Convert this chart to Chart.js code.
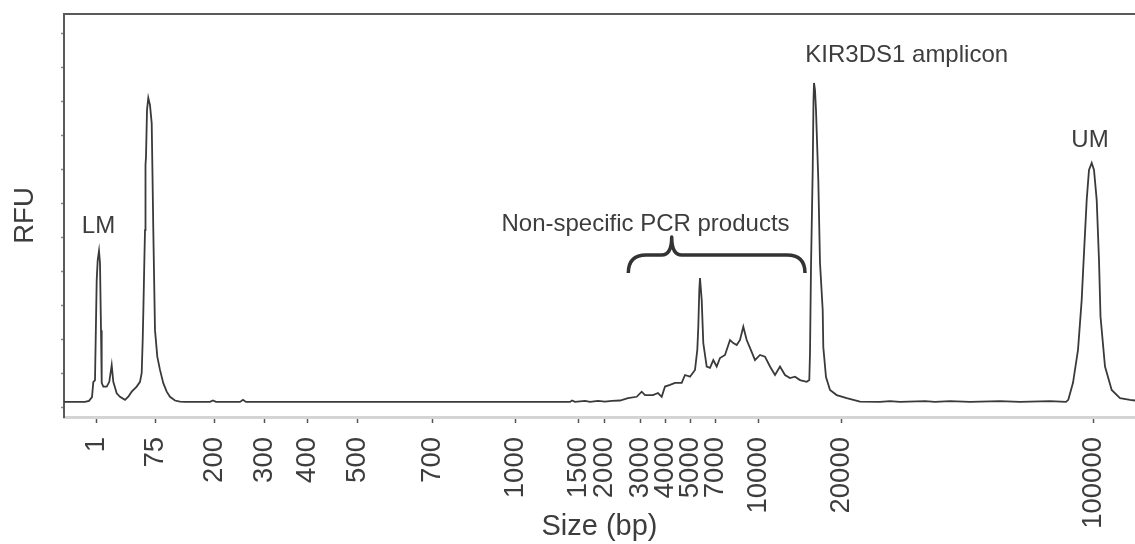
<!DOCTYPE html>
<html>
<head>
<meta charset="utf-8">
<title>Electropherogram</title>
<script src="https://cdn.jsdelivr.net/npm/chart.js@4.4.1/dist/chart.umd.min.js"></script>
<style>
  html, body { margin: 0; padding: 0; background: #fff; }
  #wrap { width: 1135px; height: 544px; position: relative; }
</style>
</head>
<body>
<div id="wrap"><canvas id="trace"></canvas></div>
<script>
// migration time (s) of each trace sample
const migrationTime = [
  0, 2.1, 2.5, 2.8, 2.93, 3.1, 3.27, 3.37, 3.5, 3.6, 3.7, 3.77, 3.93, 4.27, 4.53,
  4.77, 4.93, 5.27, 5.6, 6.1, 6.43, 6.77, 7.27, 7.6, 7.77, 7.87, 7.93, 8.03, 8.1, 8.15,
  8.2, 8.3, 8.43, 8.6, 8.77, 8.85, 8.93, 9.1, 9.33, 9.6, 9.93, 10.27, 10.6, 11.1, 11.6, 12.1,
  14.6, 14.9, 15.2, 17.6, 17.9, 18.2,
  50.6, 50.8, 51.1, 52.1, 52.6, 53.4, 54.1, 54.8, 55.6, 56.4,
  57.27, 57.77, 58.1, 58.5, 58.9, 59.4, 59.77, 60.1, 60.6, 61.1, 61.77, 62.1, 62.6, 63.1, 63.33,
  63.43, 63.53, 63.6, 63.77, 63.93, 64.27, 64.6, 64.93, 65.27, 65.6, 66.1, 66.6, 66.93, 67.27, 67.6,
  67.93, 68.27, 68.6, 69.1, 69.6, 70.1, 70.6, 71.1, 71.6, 72.1, 72.6, 73.1, 73.6, 74.27, 74.53,
  74.6, 74.7, 74.87, 74.95, 75.0, 75.1, 75.2, 75.43, 75.6, 75.87, 75.93, 76.2, 76.6, 77.27, 78.27, 79.6,
  81.6, 82.6, 83.6, 86.1, 87.1, 88.6, 90.6, 93.6, 95.6, 98.6, 100.2,
  100.43, 100.9, 101.4, 101.77, 101.93, 102.27, 102.5, 102.77, 103.0, 103.27, 103.5, 103.65, 104.1,
  104.77, 105.6, 106.6, 107.1
];

// fluorescence signal (RFU) for each sample
const signal = [
  18, 18, 21, 32, 76, 82, 376, 435, 462, 426, 229, 74, 63, 63, 77,
  126, 77, 43, 33, 24, 33, 48, 63, 77, 103, 200, 279, 426, 523, 715,
  738, 876, 912, 891, 838, 685, 523, 229, 151, 112, 73, 48, 33, 22, 19, 18,
  18, 22, 18, 18, 24, 18,
  18, 22, 18, 21, 18, 21, 19, 21, 22, 29,
  33, 48, 38, 38, 38, 44, 33, 63, 68, 74, 74, 97, 92, 112, 171,
  239, 347, 382, 318, 191, 122, 118, 141, 122, 147, 156, 200, 191, 185, 200,
  239, 200, 177, 141, 156, 151, 122, 97, 122, 97, 88, 92, 82, 77, 82,
  162, 415, 700, 906, 956, 935, 876, 671, 427, 288, 179, 91, 53, 38, 29, 19,
  18, 20, 18, 20, 18, 20, 18, 20, 18, 20, 18,
  24, 74, 171, 318, 415, 612, 700, 721, 700, 612, 435, 269, 122,
  53, 29, 24, 22
];

// size ladder: where each fragment size elutes
const ladderTime = [3.2, 9.1, 15.0, 20.0, 24.3, 29.3, 36.8, 45.1, 51.4, 54.0, 57.6, 60.1, 62.6, 65.1, 69.4, 77.7, 102.9];
const ladderSize = ['1', '75', '200', '300', '400', '500', '700', '1000', '1500', '2000', '3000', '4000', '5000', '7000', '10000', '20000', '100000'];

// peak annotations
const noteText = ['LM', 'Non-specific PCR products', 'KIR3DS1 amplicon', 'UM'];
const noteTime = [3.45, 58.15, 84.27, 102.6];
const noteRfu = [535, 541, 1038, 788];

// brace over the non-specific products
const braceTime = [56.43, 60.77, 74.1];   // left end, tip, right end
const braceRfu = [397, 450, 503];         // ends, bar, tip

const FONT = '"Liberation Sans", Arial, Helvetica, sans-serif';
const INK = '#3d3d3d';

const annotations = {
  id: 'annotations',
  afterDatasetsDraw(chart) {
    const { ctx, scales: { x, y } } = chart;
    ctx.save();
    ctx.fillStyle = INK;
    ctx.font = '24px ' + FONT;
    ctx.textAlign = 'center';
    ctx.textBaseline = 'middle';
    noteText.forEach((txt, i) => {
      ctx.fillText(txt, x.getPixelForValue(noteTime[i]), y.getPixelForValue(noteRfu[i]));
    });

    const x0 = x.getPixelForValue(braceTime[0]);
    const xt = x.getPixelForValue(braceTime[1]);
    const x1 = x.getPixelForValue(braceTime[2]);
    const yEnd = y.getPixelForValue(braceRfu[0]);
    const yBar = y.getPixelForValue(braceRfu[1]);
    const yTip = y.getPixelForValue(braceRfu[2]);
    const r = yEnd - yBar;
    const h = 10;
    ctx.strokeStyle = '#333';
    ctx.lineWidth = 3.5;
    ctx.lineJoin = 'round';
    ctx.beginPath();
    ctx.moveTo(x0, yEnd);
    ctx.quadraticCurveTo(x0, yBar, x0 + r, yBar);
    ctx.lineTo(xt - h, yBar);
    ctx.quadraticCurveTo(xt, yBar, xt, yTip);
    ctx.quadraticCurveTo(xt, yBar, xt + h, yBar);
    ctx.lineTo(x1 - r, yBar);
    ctx.quadraticCurveTo(x1, yBar, x1, yEnd);
    ctx.stroke();
    ctx.restore();
  }
};

new Chart(document.getElementById('trace'), {
  type: 'line',
  data: {
    datasets: [{
      data: migrationTime.map((t, i) => ({ x: t, y: signal[i] })),
      borderColor: '#3a3a3a',
      borderWidth: 1.8,
      pointRadius: 0,
      tension: 0,
      fill: false
    }]
  },
  options: {
    responsive: true,
    maintainAspectRatio: false,
    animation: false,
    layout: { padding: 0 },
    plugins: { legend: { display: false }, tooltip: { enabled: false } },
    scales: {
      x: {
        type: 'linear',
        position: 'bottom',
        min: 0,
        max: 107.1,
        afterBuildTicks: (scale) => { scale.ticks = ladderTime.map(v => ({ value: v })); },
        afterFit: (scale) => {
          scale.height = 127;
          scale.paddingLeft = 0;
          scale.paddingRight = 0;
        },
        ticks: {
          autoSkip: false,
          minRotation: 90,
          maxRotation: 90,
          padding: 14,
          color: INK,
          font: { family: FONT, size: 27.5 },
          callback: (value, index) => ladderSize[index]
        },
        grid: {
          drawOnChartArea: false,
          drawTicks: true,
          tickLength: 6,
          tickColor: '#555',
          tickWidth: 1.5
        },
        border: { display: true, color: '#d4d4d4', width: 3 },
        title: {
          display: true,
          text: 'Size (bp)',
          color: INK,
          font: { family: FONT, size: 29 },
          padding: { top: 0, bottom: 0 }
        }
      },
      xTop: {
        type: 'linear',
        position: 'top',
        min: 0,
        max: 107.1,
        afterFit: (scale) => {
          scale.height = 14;
          scale.paddingLeft = 0;
          scale.paddingRight = 0;
        },
        ticks: { display: false },
        grid: { display: false },
        border: { display: true, color: '#5a5a5a', width: 2 }
      },
      y: {
        type: 'linear',
        position: 'left',
        min: -26.5,
        max: 1158.8,
        afterFit: (scale) => {
          scale.width = 64;
          scale.paddingTop = 0;
          scale.paddingBottom = 0;
        },
        ticks: { display: false, stepSize: 100, includeBounds: false },
        grid: {
          drawOnChartArea: false,
          drawTicks: true,
          tickLength: 3,
          tickColor: '#888',
          tickWidth: 1.5
        },
        border: { display: true, color: '#5a5a5a', width: 2 },
        title: {
          display: true,
          text: 'RFU',
          color: INK,
          font: { family: FONT, size: 27.5 },
          padding: { top: 9, bottom: 0 }
        }
      }
    }
  },
  plugins: [annotations]
});
</script>
</body>
</html>
